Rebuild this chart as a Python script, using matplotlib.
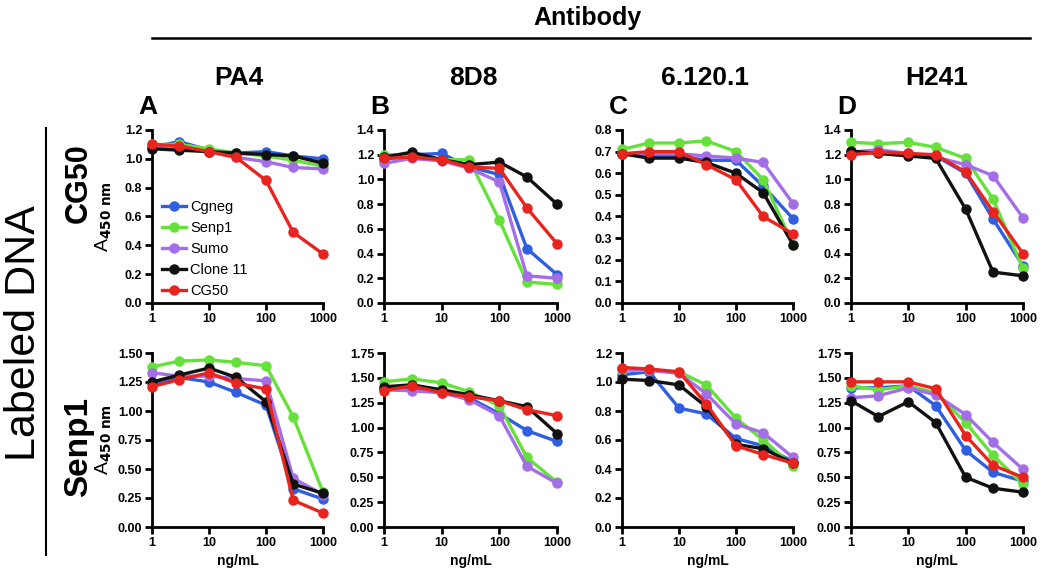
import matplotlib
matplotlib.use('Agg')
import matplotlib.pyplot as plt
from matplotlib.lines import Line2D

# ---------------- data ----------------
conc = [1, 3, 10, 30, 100, 300, 1000]
series_names = ['Cgneg', 'Senp1', 'Sumo', 'Clone 11', 'CG50']
series_colors = ['#2f5fe0', '#66e03a', '#a46ee6', '#111111', '#e8241e']
antibodies = ['PA4', '8D8', '6.120.1', 'H241']
panel_letters = ['A', 'B', 'C', 'D']
row_labels = ['CG50', 'Senp1']
x_ticks = [1, 10, 100, 1000]
x_tick_labels = ['1', '10', '100', '1000']

# Labeled DNA = CG50 (top row); order: Cgneg, Senp1, Sumo, Clone 11, CG50
cg50_pa4 = [[1.08, 1.12, 1.06, 1.04, 1.05, 1.02, 1.00],
            [1.10, 1.10, 1.07, 1.04, 1.02, 0.99, 0.95],
            [1.08, 1.07, 1.05, 1.01, 0.98, 0.94, 0.93],
            [1.07, 1.06, 1.05, 1.04, 1.03, 1.02, 0.97],
            [1.10, 1.09, 1.05, 1.01, 0.85, 0.49, 0.34]]
cg50_8d8 = [[1.16, 1.20, 1.21, 1.10, 1.04, 0.44, 0.23],
            [1.20, 1.20, 1.16, 1.16, 0.67, 0.17, 0.15],
            [1.13, 1.17, 1.15, 1.09, 0.98, 0.22, 0.20],
            [1.18, 1.22, 1.16, 1.12, 1.14, 1.02, 0.80],
            [1.17, 1.18, 1.16, 1.10, 1.09, 0.77, 0.48]]
cg50_6120 = [[0.69, 0.68, 0.68, 0.66, 0.66, 0.54, 0.39],
             [0.71, 0.74, 0.74, 0.75, 0.70, 0.57, 0.27],
             [0.69, 0.69, 0.69, 0.68, 0.67, 0.65, 0.46],
             [0.69, 0.67, 0.67, 0.65, 0.60, 0.51, 0.27],
             [0.69, 0.70, 0.70, 0.64, 0.57, 0.40, 0.32]]
cg50_h241 = [[1.22, 1.22, 1.20, 1.19, 1.05, 0.68, 0.30],
             [1.30, 1.29, 1.30, 1.26, 1.17, 0.84, 0.28],
             [1.22, 1.24, 1.21, 1.18, 1.12, 1.03, 0.69],
             [1.23, 1.21, 1.19, 1.17, 0.76, 0.25, 0.22],
             [1.20, 1.22, 1.21, 1.20, 1.06, 0.74, 0.40]]

# Labeled DNA = Senp1 (bottom row)
senp1_pa4 = [[1.24, 1.29, 1.25, 1.16, 1.05, 0.33, 0.24],
             [1.38, 1.43, 1.44, 1.42, 1.39, 0.95, 0.30],
             [1.33, 1.30, 1.30, 1.28, 1.26, 0.42, 0.28],
             [1.25, 1.31, 1.37, 1.29, 1.08, 0.37, 0.29],
             [1.21, 1.27, 1.33, 1.24, 1.19, 0.23, 0.12]]
senp1_8d8 = [[1.39, 1.40, 1.36, 1.30, 1.14, 0.97, 0.86],
             [1.46, 1.49, 1.45, 1.36, 1.22, 0.70, 0.45],
             [1.38, 1.37, 1.35, 1.28, 1.12, 0.61, 0.44],
             [1.41, 1.43, 1.38, 1.33, 1.27, 1.21, 0.94],
             [1.37, 1.42, 1.35, 1.31, 1.27, 1.18, 1.12]]
senp1_6120 = [[1.05, 1.07, 0.82, 0.78, 0.61, 0.56, 0.45],
              [1.08, 1.08, 1.07, 0.98, 0.75, 0.60, 0.42],
              [1.09, 1.08, 1.06, 0.92, 0.71, 0.65, 0.48],
              [1.02, 1.01, 0.98, 0.83, 0.57, 0.54, 0.44],
              [1.10, 1.09, 1.07, 0.85, 0.56, 0.50, 0.44]]
senp1_h241 = [[1.40, 1.40, 1.42, 1.22, 0.77, 0.55, 0.46],
              [1.42, 1.38, 1.42, 1.35, 1.05, 0.72, 0.43],
              [1.30, 1.32, 1.40, 1.33, 1.13, 0.85, 0.58],
              [1.27, 1.11, 1.26, 1.05, 0.50, 0.39, 0.35],
              [1.46, 1.46, 1.46, 1.39, 0.92, 0.62, 0.50]]

top_row = [cg50_pa4, cg50_8d8, cg50_6120, cg50_h241]
bottom_row = [senp1_pa4, senp1_8d8, senp1_6120, senp1_h241]

top_yticks = [[0.0, 0.2, 0.4, 0.6, 0.8, 1.0, 1.2],
              [0.0, 0.2, 0.4, 0.6, 0.8, 1.0, 1.2, 1.4],
              [0.0, 0.1, 0.2, 0.3, 0.4, 0.5, 0.6, 0.7, 0.8],
              [0.0, 0.2, 0.4, 0.6, 0.8, 1.0, 1.2, 1.4]]
bottom_yticks = [[0.0, 0.25, 0.5, 0.75, 1.0, 1.25, 1.5],
                 [0.0, 0.25, 0.5, 0.75, 1.0, 1.25, 1.5, 1.75],
                 [0.0, 0.2, 0.4, 0.6, 0.8, 1.0, 1.2],
                 [0.0, 0.25, 0.5, 0.75, 1.0, 1.25, 1.5, 1.75]]
top_fmt = ['%.1f', '%.1f', '%.1f', '%.1f']
bottom_fmt = ['%.2f', '%.2f', '%.1f', '%.2f']

# ---------------- figure ----------------
plt.rcParams['font.family'] = ['Liberation Sans', 'DejaVu Sans']
W, H = 1050, 581
fig = plt.figure(figsize=(W / 100, H / 100), dpi=100)

col_px = [(152, 323), (384, 557), (622, 793), (851, 1023)]
row_px = [(130, 303), (353, 527)]


def px_rect(x0, x1, y0, y1):
    return [x0 / W, 1 - y1 / H, (x1 - x0) / W, (y1 - y0) / H]


def style_axes(ax, yt, fmt, bottom):
    for s in ['top', 'right']:
        ax.spines[s].set_visible(False)
    for s in ['left', 'bottom']:
        ax.spines[s].set_linewidth(2.0)
        ax.spines[s].set_color('black')
    ax.set_xscale('log')
    ax.set_xlim(1, 1000)
    ax.set_ylim(yt[0], yt[-1])
    ax.set_xticks(x_ticks)
    ax.set_xticklabels(x_tick_labels)
    ax.minorticks_off()
    ax.set_yticks(yt)
    ax.set_yticklabels([fmt % v for v in yt])
    ax.tick_params(axis='both', direction='out', length=5, width=2.0,
                   labelsize=9, pad=2)
    for lab in ax.get_xticklabels() + ax.get_yticklabels():
        lab.set_fontweight('bold')
    if bottom:
        ax.set_xlabel('ng/mL', fontsize=10, fontweight='bold', labelpad=4)


for r, (rows, ytl, fmts) in enumerate([(top_row, top_yticks, top_fmt),
                                        (bottom_row, bottom_yticks, bottom_fmt)]):
    for c in range(4):
        x0, x1 = col_px[c]
        y0, y1 = row_px[r]
        ax = fig.add_axes(px_rect(x0, x1, y0, y1))
        for k, vals in enumerate(rows[c]):
            ax.plot(conc, vals, color=series_colors[k], lw=2.4, marker='o',
                    ms=6.5, mec=series_colors[k], mfc=series_colors[k],
                    clip_on=False, zorder=3 + k, label=series_names[k])
        style_axes(ax, ytl[c], fmts[c], bottom=(r == 1))
        if r == 0 and c == 0:
            handles = [Line2D([0], [0], color=series_colors[k], lw=2.4,
                              marker='o', ms=6.5) for k in range(5)]
            ax.legend(handles, series_names, loc='lower left',
                      bbox_to_anchor=(0.01, -0.02), frameon=False,
                      fontsize=10.5, handlelength=1.6, handletextpad=0.3,
                      labelspacing=0.48, borderaxespad=0.2)

# y labels for first column
for r in range(2):
    y0, y1 = row_px[r]
    fig.text(104 / W, 1 - (y0 + y1) / 2 / H,
             r'A$_{\mathregular{\mathbf{450\ nm}}}$',
             rotation=90, ha='center', va='center', fontsize=14)
    fig.text(79 / W, 1 - [183, 447][r] / H, row_labels[r], rotation=90,
             ha='center', va='center', fontsize=[22, 24][r],
             fontweight='bold')

# panel letters
for c, letter in enumerate(panel_letters):
    fig.text((col_px[c][0] - 4) / W, 1 - 107 / H, letter, ha='center',
             va='center', fontsize=19, fontweight='bold')

# column headers
for c, name in enumerate(antibodies):
    fig.text([239, 473, 705, 937][c] / W, 1 - 78 / H, name, ha='center',
             va='center', fontsize=19, fontweight='bold')

fig.text(588 / W, 1 - 18 / H, 'Antibody', ha='center', va='center',
         fontsize=18, fontweight='bold')
fig.add_artist(Line2D([152 / W, 1030 / W], [1 - 38 / H, 1 - 38 / H],
                      color='black', lw=1.8, transform=fig.transFigure))

# left side label
fig.text(24 / W, 1 - 333 / H, 'Labeled DNA', rotation=90, ha='center',
         va='center', fontsize=31)
fig.add_artist(Line2D([46 / W, 46 / W], [1 - 128 / H, 1 - 555 / H],
                      color='black', lw=1.5, transform=fig.transFigure))

fig.savefig('out.png', dpi=100)
